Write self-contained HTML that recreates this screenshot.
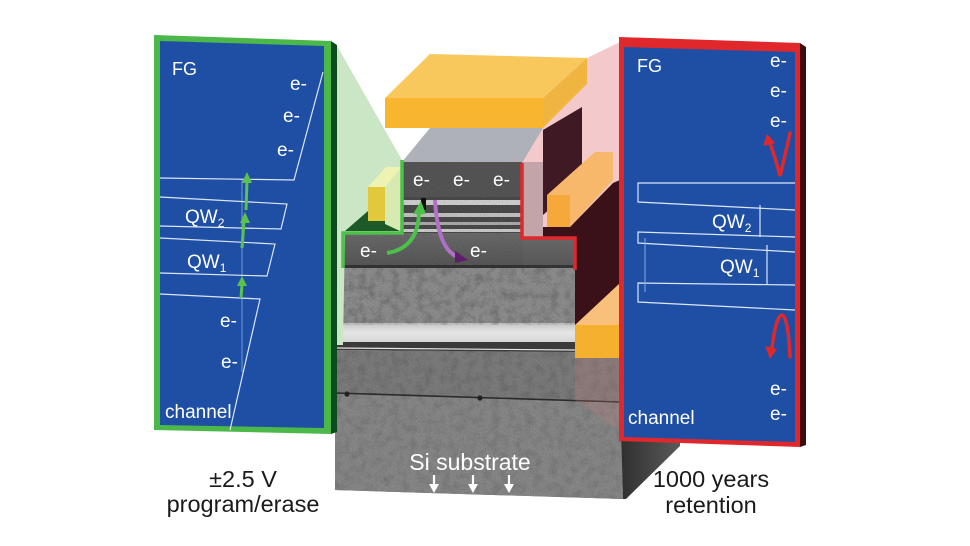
<!DOCTYPE html>
<html><head><meta charset="utf-8"><style>
html,body{margin:0;padding:0;background:#fff;width:970px;height:546px;overflow:hidden}
svg{display:block}
</style></head><body>
<svg width="970" height="546" viewBox="0 0 970 546" xmlns="http://www.w3.org/2000/svg" font-family="'Liberation Sans', Arial, sans-serif">
<defs>
  <filter id="grain" x="0" y="0" width="100%" height="100%">
    <feTurbulence type="fractalNoise" baseFrequency="0.75" numOctaves="2" seed="5" result="t"/>
    <feColorMatrix in="t" type="matrix" values="0 0 0 0 0  0 0 0 0 0  0 0 0 0 0  0 0 0 -1.3 0.8"/>
  </filter>
  <filter id="mottle" x="0" y="0" width="100%" height="100%">
    <feTurbulence type="fractalNoise" baseFrequency="0.12" numOctaves="3" seed="9" result="t"/>
    <feColorMatrix in="t" type="matrix" values="0 0 0 0 0  0 0 0 0 0  0 0 0 0 0  0 0 0 -1.6 0.95"/>
  </filter>
  <clipPath id="subclip"><polygon points="335,350 619,352 623,499 335,490"/></clipPath>
  <clipPath id="bandclip"><rect x="343" y="268" width="232" height="57"/></clipPath>
  <clipPath id="gateclip"><rect x="343" y="162" width="180" height="106"/></clipPath>
  <linearGradient id="side" x1="0" y1="0" x2="1" y2="0">
    <stop offset="0" stop-color="#2e2e2e"/><stop offset="1" stop-color="#5a5a5a"/>
  </linearGradient>
  <linearGradient id="lband" x1="0" y1="0" x2="0" y2="1">
    <stop offset="0" stop-color="#c4c4c4"/><stop offset="0.5" stop-color="#e6e6e6"/><stop offset="1" stop-color="#d6d6d6"/>
  </linearGradient>
  <linearGradient id="stepg" x1="0" y1="0" x2="0" y2="1">
    <stop offset="0" stop-color="#6a6a6a"/><stop offset="1" stop-color="#555"/>
  </linearGradient>
</defs>

<!-- substrate side face -->
<polygon points="619,352 680,300 680,446 626,499 619,499" fill="url(#side)"/>

<!-- substrate front -->
<polygon points="335,350 619,352 623,499 335,490" fill="#7c7c7c"/>
<polygon points="335,393 620,402 623,499 335,490" fill="#888"/>
<g clip-path="url(#subclip)">
  <rect x="335" y="345" width="290" height="160" filter="url(#mottle)" opacity="0.15"/>
  <rect x="335" y="345" width="290" height="160" filter="url(#grain)" opacity="0.22"/>
</g>
<polyline points="335,393 620,402" stroke="#2a2a2a" stroke-width="1.6" fill="none"/>
<circle cx="347" cy="394" r="2.6" fill="#222"/>
<circle cx="480" cy="398" r="2.6" fill="#222"/>

<!-- ONO stack layers -->
<polygon points="337,342 575,342 575,352 337,350" fill="#3a3a3a"/>
<line x1="337" y1="348" x2="575" y2="350" stroke="#e6e6e6" stroke-width="1.2"/>
<rect x="343" y="323" width="232" height="19" fill="url(#lband)"/>
<rect x="343" y="268" width="232" height="55" fill="#8e8e8e"/>
<g clip-path="url(#bandclip)">
  <rect x="343" y="268" width="232" height="57" filter="url(#mottle)" opacity="0.25"/>
  <rect x="343" y="268" width="232" height="57" filter="url(#grain)" opacity="0.25"/>
</g>
<rect x="343" y="233" width="232" height="35" fill="url(#stepg)"/>
<rect x="343" y="265" width="232" height="3" fill="#333"/>

<!-- gate stack front -->
<rect x="402" y="162" width="120" height="71" fill="#4a4a4a"/>
<rect x="402" y="162" width="120" height="35" fill="#555"/>
<rect x="402" y="200" width="120" height="5" fill="#cfcfcf"/>
<rect x="402" y="213" width="120" height="4" fill="#c2c2c2"/>
<rect x="402" y="222" width="120" height="3" fill="#ababab"/>
<rect x="402" y="229" width="120" height="3" fill="#cacaca"/>
<g clip-path="url(#gateclip)">
  <rect x="343" y="162" width="180" height="106" filter="url(#grain)" opacity="0.2"/>
</g>
<!-- gate top face -->
<polygon points="402,162 430,128 543,128 543,162" fill="#aeb2b8"/>

<!-- left green translucent projection -->
<polygon points="336,44 402,160 402,232 345,232 343,345 336,345" fill="#cbe6c5"/>
<polygon points="345,231 368,211 402,211 402,231" fill="#1d5a28"/>
<!-- yellow block -->
<polygon points="368,187 386,167 402,167 385,187" fill="#eef2b3"/>
<polygon points="385,187 402,167 402,232 385,224" fill="#d6eab2"/>
<rect x="368" y="187" width="17" height="34" fill="#e2c93b"/>
<!-- green outline -->
<polyline points="402,160 402,233 343,233 343,268" fill="none" stroke="#4cc04a" stroke-width="3.5"/>

<!-- right pink projection -->
<polygon points="620,42 587,58 587,84 543,128 522,163 522,238 620,238" fill="#f4c9cb"/>
<rect x="522" y="162" width="21" height="76" fill="#c3a4a9"/>
<polygon points="543,130 582,107 582,180 543,215" fill="#3f1a24"/>
<!-- lower maroon side face -->
<polygon points="543,227 570,227 613,183 620,180 620,292 575,330 575,238 543,238" fill="#3a1119"/>
<!-- orange bar -->
<polygon points="547,195 595,152 613,152 613,180 570,227 570,195" fill="#f8b86c"/>
<rect x="547" y="195" width="23" height="32" fill="#f6a83a"/>
<!-- lower orange -->
<polygon points="575,325 620,283 620,325" fill="#f8c07a"/>
<rect x="575" y="325" width="44" height="33" fill="#f5b12e"/>
<polygon points="575,358 619,358 619,430 575,400" fill="#c98080" opacity="0.25"/>
<!-- red outline -->
<polyline points="522,163 522,238 575,238 575,270" fill="none" stroke="#e0282c" stroke-width="3.5"/>

<!-- gold slab -->
<polygon points="385,98 430,54 587,58 543,98" fill="#f8c85c"/>
<polygon points="543,98 587,58 587,84 543,128" fill="#f0b541"/>
<rect x="385" y="98" width="158" height="30" fill="#f8b630"/>

<!-- center texts -->
<g fill="#fff" font-size="19">
  <text x="413" y="186">e-</text>
  <text x="453" y="186">e-</text>
  <text x="493" y="186">e-</text>
  <text x="360" y="257">e-</text>
  <text x="470" y="257">e-</text>
</g>
<rect x="421" y="198" width="5" height="12" fill="#111"/>
<!-- green curved arrow -->
<path d="M387,253 Q418,248 419,213" fill="none" stroke="#4cc04a" stroke-width="4"/>
<polygon points="421,201 413,214 426,214" fill="#4cc04a"/>
<!-- purple arrow -->
<path d="M435,200 Q438,250 458,257" fill="none" stroke="#b070c8" stroke-width="4"/>
<polygon points="468,260 455,251 455,263" fill="#5a1e6a"/>

<!-- Si substrate label -->
<text x="470" y="470" font-size="23" fill="#fff" text-anchor="middle">Si substrate</text>
<g stroke="#fff" stroke-width="2.2" fill="#fff">
  <line x1="434" y1="475" x2="434" y2="486"/><polygon points="429,484 439,484 434,493" stroke="none"/>
  <line x1="473" y1="475" x2="473" y2="486"/><polygon points="468,484 478,484 473,493" stroke="none"/>
  <line x1="509" y1="475" x2="509" y2="486"/><polygon points="504,484 514,484 509,493" stroke="none"/>
</g>

<!-- LEFT PANEL -->
<polygon points="154,35 331,41 331,434 154,430" fill="#4cb84a"/>
<polygon points="331,41 337,45 337,432 331,434" fill="#0e4a1f"/>
<polygon points="160,41 324,46 324,428 160,425" fill="#1f4fa4"/>
<line x1="242" y1="180" x2="242" y2="372" stroke="#6f9ad8" stroke-width="1"/>
<g fill="none" stroke="#dbe6f6" stroke-width="1.2">
  <polyline points="323,72 294,180 160,178"/>
  <polyline points="160,197 287,204 281,229 160,226"/>
  <polyline points="160,238 275,244 267,276 160,273"/>
  <polyline points="160,294 260,299 230,430"/>
</g>
<g stroke="#5cc24f" stroke-width="3" fill="#5cc24f">
  <line x1="241" y1="298" x2="242" y2="284"/><polygon points="242,276 237,286 247,286" stroke="none"/>
  <line x1="242" y1="248" x2="244" y2="221"/><polygon points="245,212 240,223 250,223" stroke="none"/>
  <line x1="246" y1="210" x2="247" y2="181"/><polygon points="247,172 242,183 252,183" stroke="none"/>
</g>
<g fill="#fff" font-size="19">
  <text x="172" y="75" font-size="18">FG</text>
  <text x="290" y="90">e-</text>
  <text x="283" y="122">e-</text>
  <text x="277" y="156">e-</text>
  <text x="185" y="223">QW<tspan font-size="12" dy="4">2</tspan></text>
  <text x="187" y="268">QW<tspan font-size="12" dy="4">1</tspan></text>
  <text x="220" y="327">e-</text>
  <text x="221" y="368">e-</text>
  <text x="165" y="418">channel</text>
</g>

<!-- RIGHT PANEL -->
<polygon points="619,37 800,43 800,447 619,441" fill="#e0282c"/>
<polygon points="800,43 806,47 806,445 800,447" fill="#3b0d10"/>
<polygon points="624,47 795,52 795,442 624,437" fill="#1f4fa4"/>
<g fill="none" stroke="#dbe6f6" stroke-width="1.2">
  <polyline points="795,183 638,183 638,202 795,210"/>
  <polyline points="795,237 638,232 638,243 795,252"/>
  <polyline points="795,285 638,283 638,302 795,310"/>
  <line x1="760" y1="205" x2="760" y2="237"/>
  <line x1="767" y1="245" x2="767" y2="285"/>
</g>
<line x1="645" y1="238" x2="645" y2="292" stroke="#7fb0e8" stroke-width="1"/>
<g fill="#fff" font-size="19">
  <text x="637" y="72" font-size="18">FG</text>
  <text x="770" y="67">e-</text>
  <text x="770" y="97">e-</text>
  <text x="770" y="127">e-</text>
  <text x="712" y="228">QW<tspan font-size="12" dy="4">2</tspan></text>
  <text x="720" y="273">QW<tspan font-size="12" dy="4">1</tspan></text>
  <text x="770" y="395">e-</text>
  <text x="770" y="420">e-</text>
  <text x="628" y="424">channel</text>
</g>
<g fill="none" stroke="#e0282c" stroke-width="3.5" stroke-linecap="round">
  <path d="M790,133 Q784,160 780,176 Q776,160 770,143"/>
  <path d="M790,357 Q788,316 782,315 Q776,316 772,348"/>
</g>
<polygon points="767,134 763,146 775,143" fill="#e0282c"/>
<polygon points="770,359 765,346 777,349" fill="#e0282c"/>

<!-- bottom captions -->
<g fill="#1a1a1a" font-size="23.5" text-anchor="middle">
  <text x="243" y="487">±2.5 V</text>
  <text x="243" y="512">program/erase</text>
  <text x="711" y="487">1000 years</text>
  <text x="711" y="513">retention</text>
</g>
</svg>
</body></html>
